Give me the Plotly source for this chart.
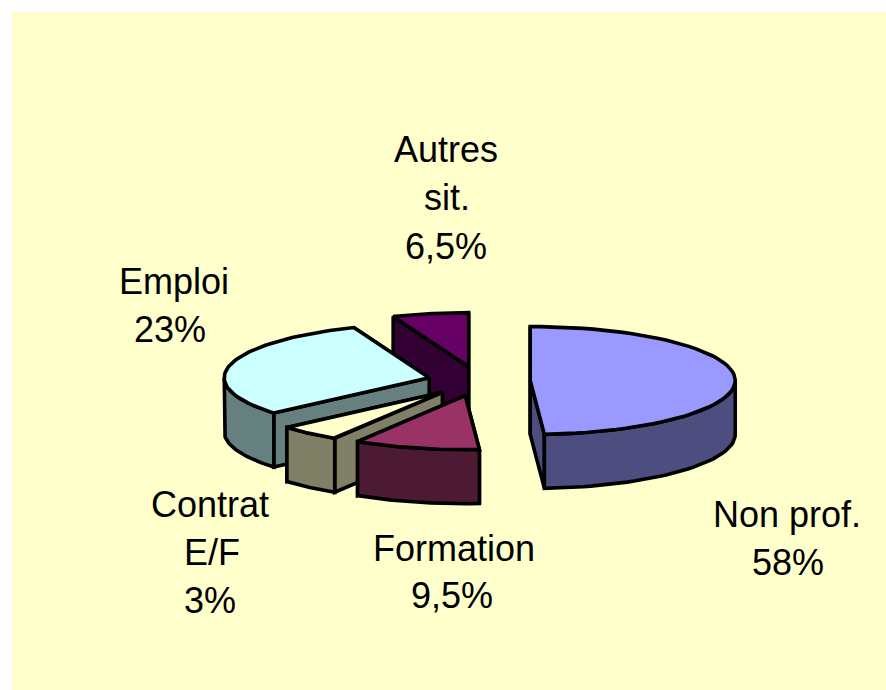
import numpy as np
import plotly.graph_objects as go

# Slices in clockwise drawing order from 12 o'clock
categories = ["Non prof.", "Formation", "Contrat E/F", "Emploi", "Autres sit."]
printed_labels = ["58%", "9,5%", "3%", "23%", "6,5%"]
# Angular share of each slice as it is drawn in the picture (%)
drawn_shares = [48.9, 9.9, 4.9, 30.3, 6.0]
explode = [0.25, 0.28, 0.275, 0.25, 0.27]

top_colors = ["#9999FF", "#993366", "#FFFFCC", "#CCFFFF", "#660066"]
side_colors = ["#4D4D80", "#4D1A33", "#808066", "#668080", "#330033"]
paint_order = [4, 3, 2, 1, 0]

label_lines = ["Non prof.", "58%", "Formation", "9,5%", "Contrat", "E/F", "3%", "Emploi", "23%", "Autres", "sit.", "6,5%"]
label_x = [787, 788, 454, 452, 210, 212, 210, 174, 170, 446, 447, 446]
label_y = [514, 562, 548, 595, 504, 552, 600, 281, 329, 149, 197, 246]

W, H = 886, 690
CX, CY, RX, RY, DEPTH = 479, 381, 205, 54, 54
LINE = 3.6


def project(theta_deg, cx, cy):
    t = np.radians(theta_deg)
    return cx + RX * np.sin(t), cy - RY * np.cos(t)


def poly(fig, xs, ys, color):
    fig.add_trace(go.Scatter(x=list(xs), y=list(ys), mode="lines", fill="toself", fillcolor=color,
                             line=dict(color="black", width=LINE), hoverinfo="skip", showlegend=False))


fig = go.Figure()
bounds = np.concatenate([[0], np.cumsum(drawn_shares)]) / sum(drawn_shares) * 360

for i in paint_order:
    a0, a1 = bounds[i], bounds[i + 1]
    mid = (a0 + a1) / 2
    ox, oy = project(mid, 0, 0)
    ax, ay = CX + explode[i] * ox, CY + explode[i] * oy

    # radial walls, farther edge first
    edges = sorted([a0, a1], key=lambda t: project(t, ax, ay)[1])
    for e in edges:
        ex, ey = project(e, ax, ay)
        poly(fig, [ax, ex, ex, ax, ax], [ay, ey, ey + DEPTH, ay + DEPTH, ay], side_colors[i])

    # outer wall: only the front half of the rim is visible
    w0, w1 = max(a0, 90), min(a1, 270)
    if w1 > w0:
        th = np.linspace(w0, w1, 40)
        px, py = project(th, ax, ay)
        poly(fig, np.r_[px, px[::-1], px[0]], np.r_[py, (py + DEPTH)[::-1], py[0]], side_colors[i])

    # top face
    th = np.linspace(a0, a1, 60)
    px, py = project(th, ax, ay)
    poly(fig, np.r_[ax, px, ax], np.r_[ay, py, ay], top_colors[i])

for t, x, y in zip(label_lines, label_x, label_y):
    fig.add_annotation(x=x, y=y, text=t, showarrow=False, xanchor="center", yanchor="middle", align="center",
                       font=dict(family="Liberation Sans", size=36, color="black"))

fig.update_layout(
    width=W, height=H, margin=dict(l=0, r=0, t=0, b=0), paper_bgcolor="white", plot_bgcolor="rgba(0,0,0,0)",
    showlegend=False,
    xaxis=dict(range=[0, W], visible=False, fixedrange=True),
    yaxis=dict(range=[H, 0], visible=False, fixedrange=True),
    shapes=[dict(type="rect", xref="x", yref="y", x0=12, y0=12, x1=W, y1=H, fillcolor="#FFFFCC",
                 line=dict(width=0), layer="below")],
)
fig.write_html("out.html", config={"displayModeBar": False},
               post_script="document.body.style.margin='0';document.body.style.overflow='hidden';")
